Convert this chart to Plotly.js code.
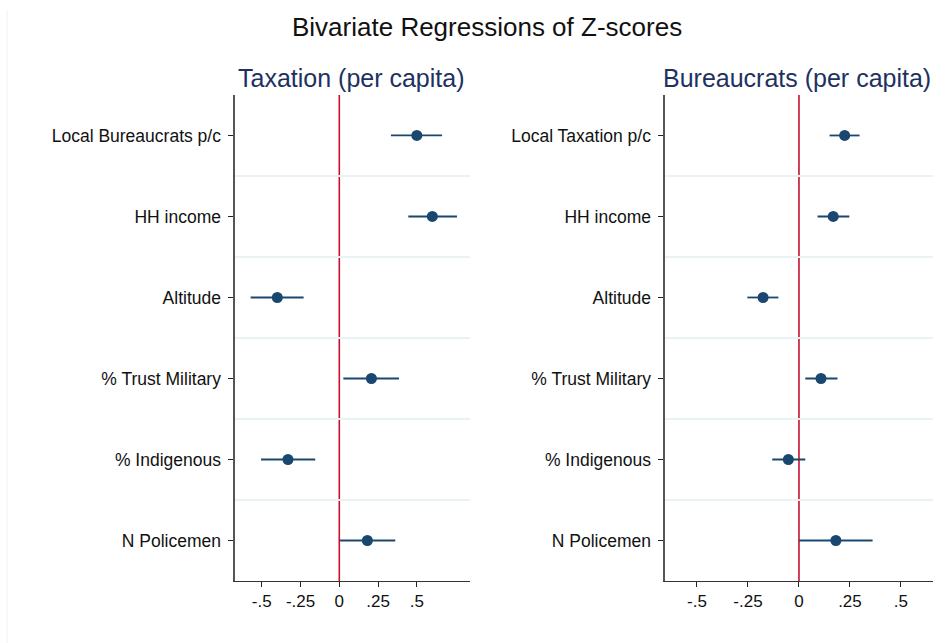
<!DOCTYPE html>
<html>
<head>
<meta charset="utf-8">
<script src="https://cdn.plot.ly/plotly-3.0.1.min.js"></script>
<style>html,body{margin:0;padding:0;background:#fff;}#chart{width:952px;height:643px;}</style>
</head>
<body>
<div id="chart"></div>
<script>
// Row positions (1 = top)
const rows = [1, 2, 3, 4, 5, 6];

// Left panel: Taxation (per capita)
const taxLabels = ["Local Bureaucrats p/c", "HH income", "Altitude", "% Trust Military", "% Indigenous", "N Policemen"];
const taxCoef = [0.50, 0.60, -0.40, 0.207, -0.331, 0.181];
const taxLow  = [0.333, 0.445, -0.572, 0.026, -0.505, 0.005];
const taxHigh = [0.663, 0.759, -0.230, 0.385, -0.155, 0.361];

// Right panel: Bureaucrats (per capita)
const burLabels = ["Local Taxation p/c", "HH income", "Altitude", "% Trust Military", "% Indigenous", "N Policemen"];
const burCoef = [0.224, 0.168, -0.176, 0.108, -0.052, 0.181];
const burLow  = [0.150, 0.091, -0.253, 0.031, -0.131, 0.001];
const burHigh = [0.297, 0.247, -0.101, 0.189, 0.031, 0.361];

const xTickVals = [-0.5, -0.25, 0, 0.25, 0.5];
const xTickText = ["-.5", "-.25", "0", ".25", ".5"];
const gridVals = [1.5, 2.5, 3.5, 4.5, 5.5];
const refLine = 0;

const navy = "#1a476f";
const red = "#c8102e";
const font = "Liberation Sans, Arial, Helvetica, sans-serif";

function trace(coef, low, high, xa, ya) {
  return {
    type: "scatter", mode: "markers",
    x: coef, y: rows, xaxis: xa, yaxis: ya,
    marker: {color: navy, size: 11},
    error_x: {
      type: "data", symmetric: false,
      array: coef.map((c, i) => high[i] - c),
      arrayminus: coef.map((c, i) => c - low[i]),
      color: navy, thickness: 1.8, width: 0
    },
    hoverinfo: "x+y", showlegend: false
  };
}

function xaxis(domain, range, anchor) {
  return {
    domain: domain, range: range, anchor: anchor,
    tickvals: xTickVals, ticktext: xTickText,
    ticks: "outside", ticklen: 5, tickcolor: "#222", tickwidth: 1,
    showline: true, linecolor: "#333", linewidth: 1,
    showgrid: false, zeroline: false,
    tickfont: {family: font, size: 17, color: "#111"},
    fixedrange: true
  };
}
function yaxis(labels, anchor) {
  return {
    domain: [0.0964, 0.8523], range: [6.5, 0.5], anchor: anchor,
    tickvals: rows, ticktext: labels,
    ticks: "outside", ticklen: 5, tickcolor: "#222", tickwidth: 1,
    ticklabelstandoff: 4,
    showline: true, linecolor: "#555", linewidth: 1.5,
    showgrid: false, zeroline: false,
    minor: {tickvals: gridVals, showgrid: true, gridcolor: "#eaf2f3", gridwidth: 1.5, ticks: ""},
    tickfont: {family: font, size: 17.5, color: "#111"},
    fixedrange: true
  };
}

const data = [
  trace(taxCoef, taxLow, taxHigh, "x", "y"),
  trace(burCoef, burLow, burHigh, "x2", "y2")
];

const layout = {
  width: 952, height: 643,
  margin: {l: 0, r: 0, t: 0, b: 0, autoexpand: false},
  paper_bgcolor: "#fff", plot_bgcolor: "#fff",
  font: {family: font},
  xaxis: xaxis([0.2468, 0.4937], [-0.673, 0.843], "y"),
  yaxis: yaxis(taxLabels, "x"),
  xaxis2: xaxis([0.6985, 0.980], [-0.657, 0.657], "y2"),
  yaxis2: yaxis(burLabels, "x2"),
  shapes: [
    {type: "line", xref: "x", yref: "y domain", x0: refLine, x1: refLine, y0: 0, y1: 1,
     line: {color: red, width: 1.6}, layer: "below"},
    {type: "line", xref: "x2", yref: "y2 domain", x0: refLine, x1: refLine, y0: 0, y1: 1,
     line: {color: red, width: 1.6}, layer: "below"},
    {type: "line", xref: "paper", yref: "paper", x0: 0.0075, x1: 0.0075, y0: 0, y1: 0.985,
     line: {color: "#f2f2f2", width: 1}, layer: "below"}
  ],
  annotations: [
    {text: "Bivariate Regressions of Z-scores", xref: "paper", yref: "paper",
     x: 0.512, y: 0.958, xanchor: "center", yanchor: "middle", showarrow: false,
     font: {family: font, size: 26, color: "#111"}},
    {text: "Taxation (per capita)", xref: "paper", yref: "paper",
     x: 0.369, y: 0.879, xanchor: "center", yanchor: "middle", showarrow: false,
     font: {family: font, size: 25, color: "#1e3160"}},
    {text: "Bureaucrats (per capita)", xref: "paper", yref: "paper",
     x: 0.837, y: 0.879, xanchor: "center", yanchor: "middle", showarrow: false,
     font: {family: font, size: 25, color: "#1e3160"}}
  ]
};

Plotly.newPlot("chart", data, layout, {displayModeBar: false, staticPlot: true});
</script>
</body>
</html>
